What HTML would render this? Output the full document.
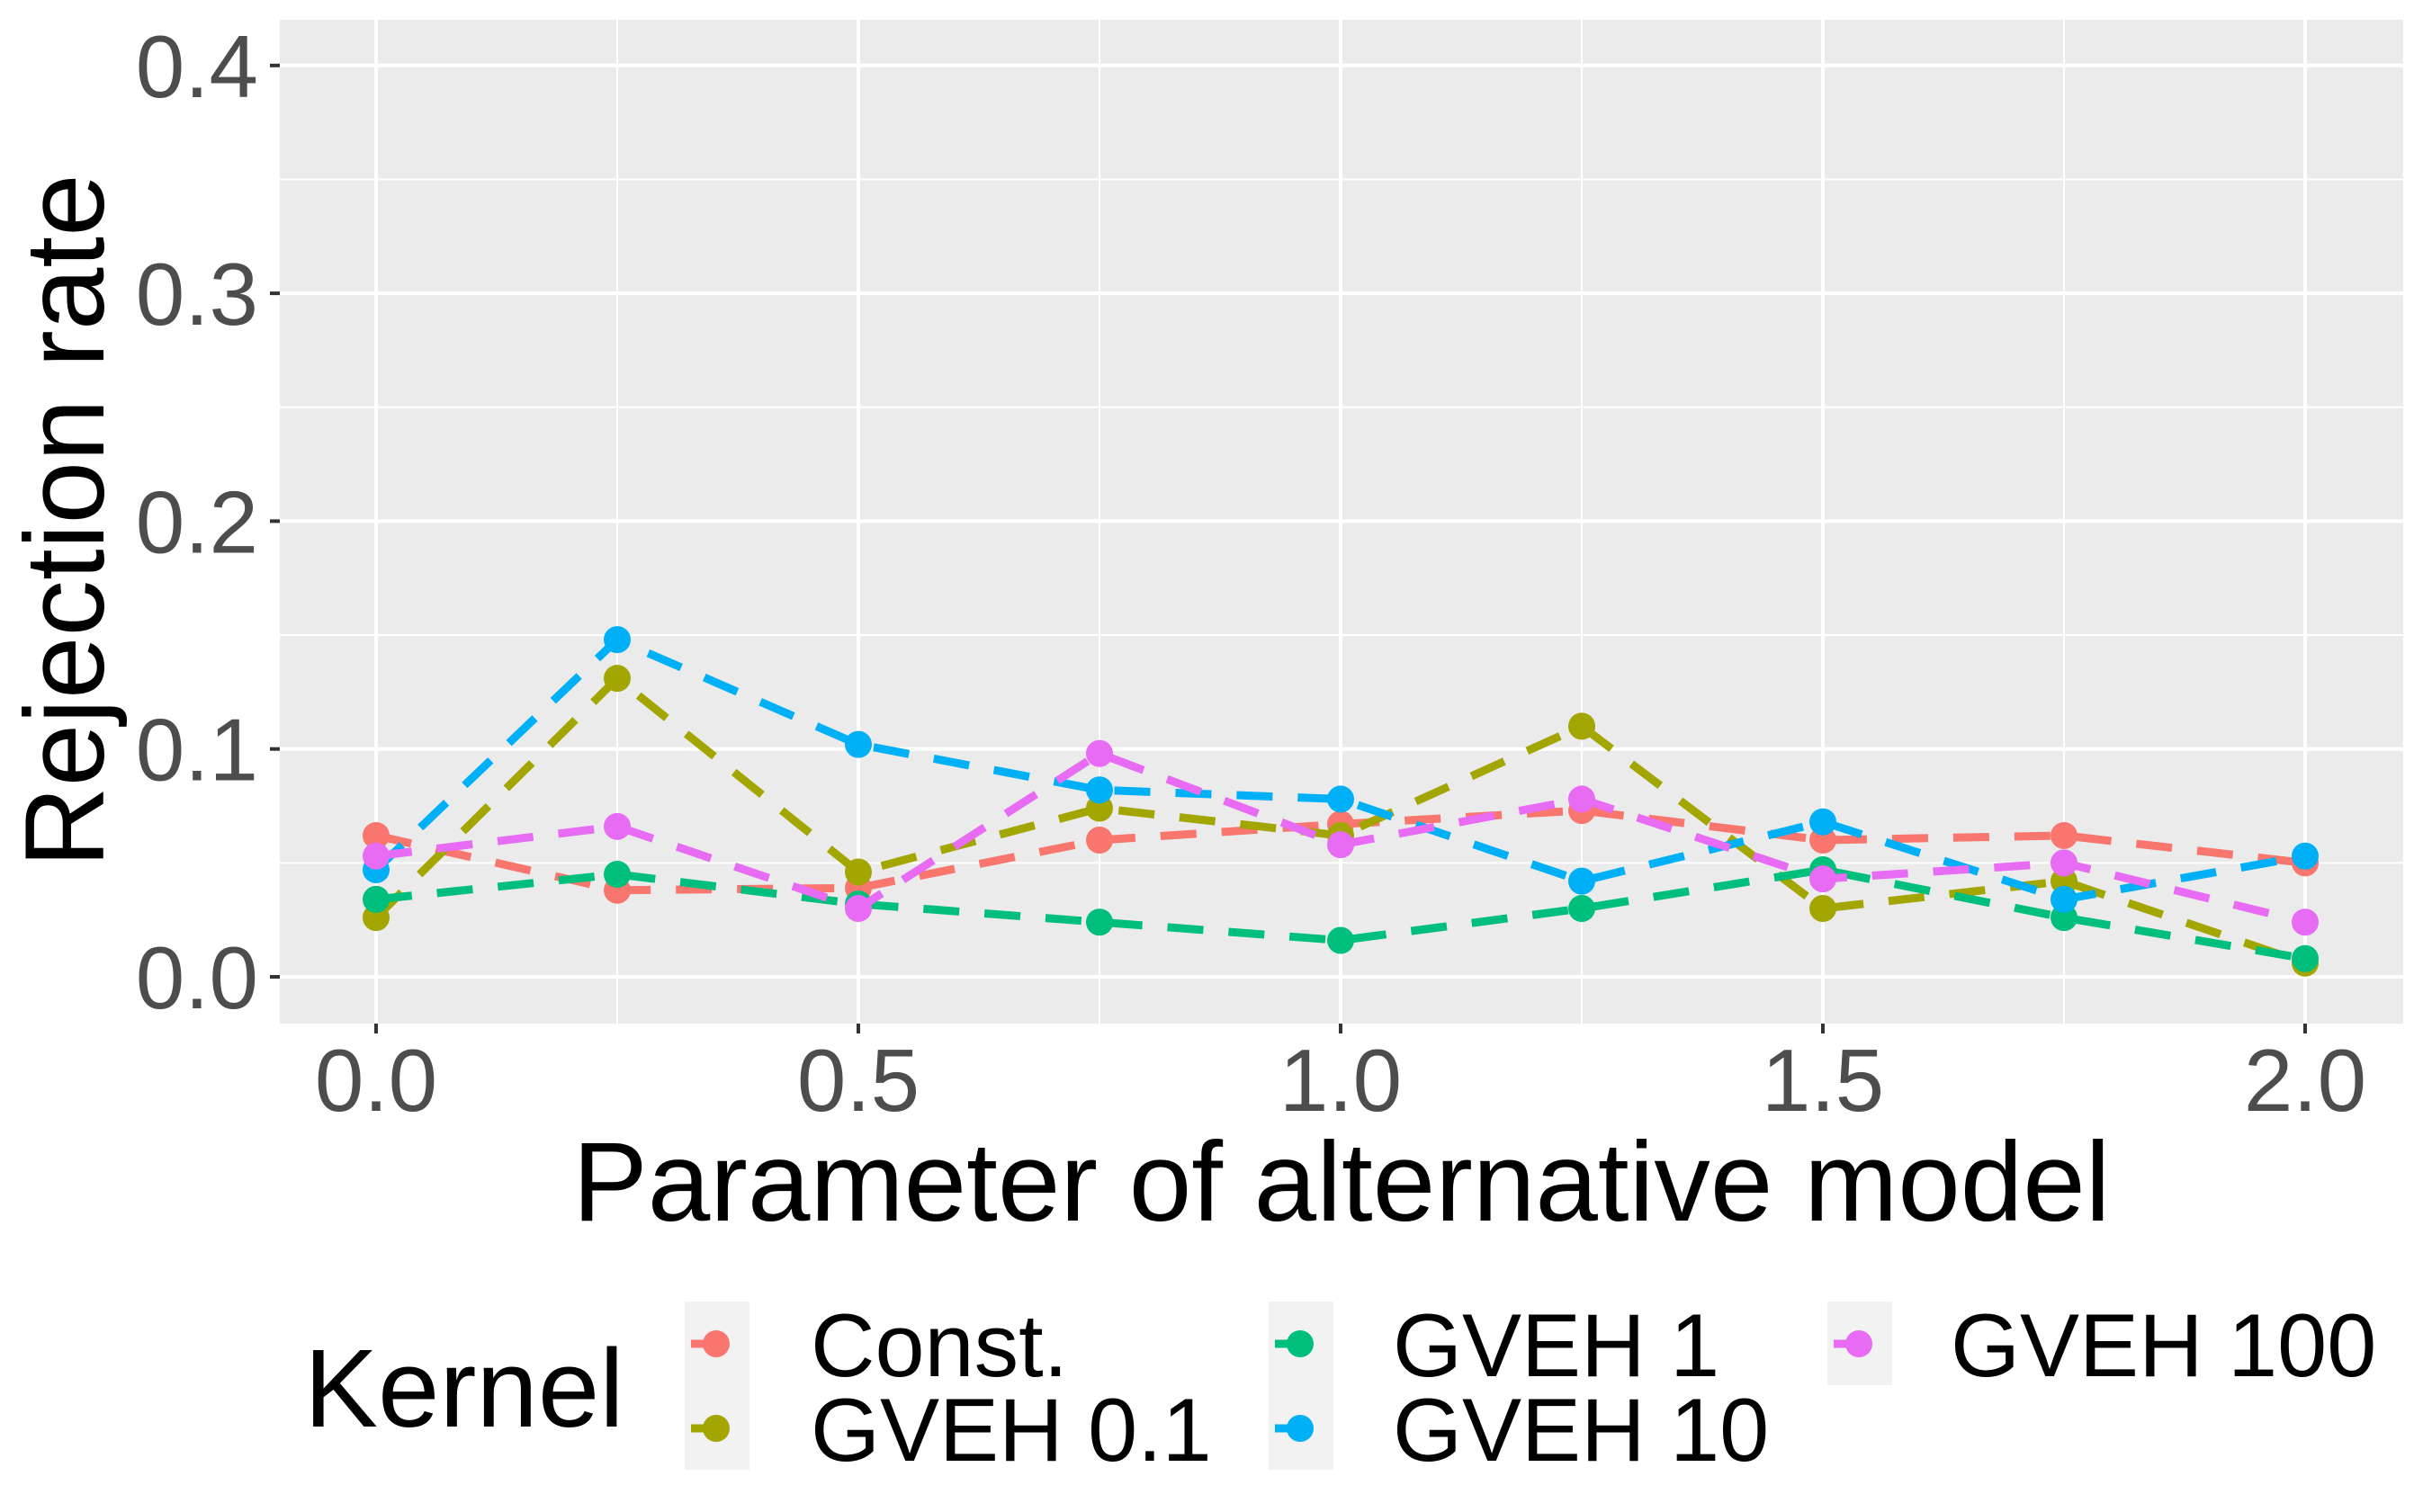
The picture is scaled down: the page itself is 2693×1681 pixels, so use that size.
<!DOCTYPE html>
<html><head><meta charset="utf-8"><style>
html,body{margin:0;padding:0;background:#fff;}
svg{display:block;font-family:"Liberation Sans",Arial,sans-serif;}
</style></head><body>
<svg id="chart" width="2693" height="1681" viewBox="0 0 2693 1681">
<rect x="311" y="22" width="2360" height="1116" fill="#ebebeb"/>
<g id="grid"></g>
<g id="axes"></g>
<g id="series"></g>
<text x="1491" y="1357" font-size="125" text-anchor="middle" fill="#000">Parameter of alternative model</text>
<text transform="translate(115,579) rotate(-90)" font-size="125" text-anchor="middle" fill="#000">Rejection rate</text>
<g id="legend">
<text x="338" y="1586" font-size="123" fill="#000">Kernel</text>
</g>
</svg>
<script>
const xCategories = [0, 0.25, 0.5, 0.75, 1.0, 1.25, 1.5, 1.75, 2.0];
const seriesNames = ["Const.", "GVEH 0.1", "GVEH 1", "GVEH 10", "GVEH 100"];
const seriesColors = ["#F8766D", "#A3A500", "#00BF7D", "#00B0F6", "#E76BF3"];
const constVals  = [0.062, 0.038, 0.039, 0.060, 0.067, 0.073, 0.060, 0.062, 0.050];
const gveh01Vals = [0.026, 0.131, 0.046, 0.074, 0.062, 0.110, 0.030, 0.042, 0.006];
const gveh1Vals  = [0.034, 0.045, 0.032, 0.024, 0.016, 0.030, 0.047, 0.026, 0.008];
const gveh10Vals = [0.047, 0.148, 0.102, 0.082, 0.078, 0.042, 0.068, 0.034, 0.053];
const gveh100Vals= [0.053, 0.066, 0.030, 0.098, 0.058, 0.078, 0.043, 0.050, 0.024];
const yTicks = [0.0, 0.1, 0.2, 0.3, 0.4];
const yTickLabels = ["0.0", "0.1", "0.2", "0.3", "0.4"];
const xTicks = [0.0, 0.5, 1.0, 1.5, 2.0];
const xTickLabels = ["0.0", "0.5", "1.0", "1.5", "2.0"];

const NS = "http://www.w3.org/2000/svg";
const X0 = 418, XS = 1072;
const Y0 = 1086, YS = 2533;
const PL = 311, PR = 2671, PT = 22, PB = 1138;
function xPos(v){ return X0 + v * XS; }
function yPos(v){ return Y0 - v * YS; }
function mk(tag, attrs, parent){ const e = document.createElementNS(NS, tag); for (const k in attrs) e.setAttribute(k, attrs[k]); parent.appendChild(e); return e; }

const grid = document.getElementById('grid');
const axes = document.getElementById('axes');
for (let i = 0; i < yTicks.length - 1; i++) {
  const v = (yTicks[i] + yTicks[i+1]) / 2;
  const l = mk('line', {x1: PL, x2: PR, y1: yPos(v), y2: yPos(v), stroke: '#fff', 'stroke-width': 2}, grid);
  
  
}
for (let i = 0; i < xTicks.length - 1; i++) {
  const v = (xTicks[i] + xTicks[i+1]) / 2;
  const l = mk('line', {x1: xPos(v), x2: xPos(v), y1: PT, y2: PB, stroke: '#fff', 'stroke-width': 2}, grid);
  
  
}
yTicks.forEach((v, i) => {
  const y = yPos(v);
  const g = mk('line', {x1: PL, x2: PR, y1: y, y2: y, stroke: '#fff', 'stroke-width': 4}, grid);
  
  
  const t = mk('line', {x1: 300, x2: PL, y1: y, y2: y, stroke: '#333', 'stroke-width': 4}, axes);
  
  
  const tx = mk('text', {x: 287, y: y + 35, 'font-size': 98, 'text-anchor': 'end', fill: '#4d4d4d'}, axes);
  tx.textContent = yTickLabels[i];
  
  
});
xTicks.forEach((v, i) => {
  const x = xPos(v);
  const g = mk('line', {x1: x, x2: x, y1: PT, y2: PB, stroke: '#fff', 'stroke-width': 4}, grid);
  
  
  const t = mk('line', {x1: x, x2: x, y1: PB, y2: PB + 11, stroke: '#333', 'stroke-width': 4}, axes);
  
  
  const tx = mk('text', {x: x, y: 1235, 'font-size': 98, 'text-anchor': 'middle', fill: '#4d4d4d'}, axes);
  tx.textContent = xTickLabels[i];
  
  
});

const allVals = [constVals, gveh01Vals, gveh1Vals, gveh10Vals, gveh100Vals];
const seriesG = document.getElementById('series');
allVals.forEach((vals, s) => {
  const g = mk('g', {}, seriesG);
  
  
  const pts = vals.map((v, i) => xPos(xCategories[i]) + ',' + yPos(v)).join(' ');
  const pl = mk('polyline', {points: pts, fill: 'none', stroke: seriesColors[s], 'stroke-width': 9, 'stroke-dasharray': '40 28'}, g);
  
  
  vals.forEach((v, i) => {
    const c = mk('circle', {cx: xPos(xCategories[i]), cy: yPos(v), r: 15, fill: seriesColors[s]}, g);
    
    
  });
});

const legend = document.getElementById('legend');
const colKeyX = [761, 1410, 2031];
const colLabelX = [901, 1548, 2168];
const rowY = [1494, 1588];
[0, 1, 2].forEach(c => {
  const rows = c < 2 ? 2 : 1;
  const bg = mk('rect', {x: colKeyX[c], y: 1447, width: 72, height: rows === 2 ? 187 : 93, fill: '#f2f2f2'}, legend);
  
  
});
seriesNames.forEach((name, s) => {
  const c = Math.floor(s / 2), r = s % 2;
  const kx = colKeyX[c], cy = rowY[r];
  const g = mk('g', {}, legend);
  
  
  const l = mk('line', {x1: kx + 7, x2: kx + 35, y1: cy, y2: cy, stroke: seriesColors[s], 'stroke-width': 9}, g);
  
  
  const p = mk('circle', {cx: kx + 35, cy: cy, r: 15, fill: seriesColors[s]}, g);
  
  
  const t = mk('text', {x: colLabelX[c], y: cy + 36, 'font-size': 99, fill: '#000'}, g);
  t.textContent = name;
  
  
});
</script>
</body></html>
